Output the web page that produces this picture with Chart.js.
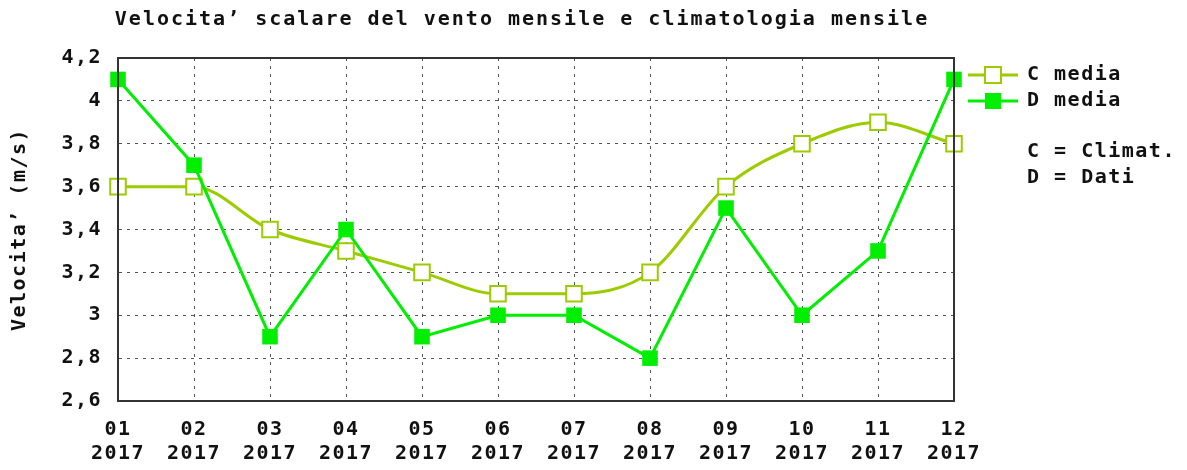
<!DOCTYPE html>
<html>
<head>
<meta charset="utf-8">
<script src="https://cdn.jsdelivr.net/npm/chart.js@4/dist/chart.umd.min.js"></script>
<style>
  html, body { margin: 0; padding: 0; background: #fff; }
  #wrap { width: 1187px; height: 470px; }
</style>
</head>
<body>
<div id="wrap"><canvas id="windChart"></canvas></div>
<script>
// Data
const months = ['01', '02', '03', '04', '05', '06', '07', '08', '09', '10', '11', '12'];
const year = '2017';
const climMedia = [3.6, 3.6, 3.4, 3.3, 3.2, 3.1, 3.1, 3.2, 3.6, 3.8, 3.9, 3.8];
const datiMedia = [4.1, 3.7, 2.9, 3.4, 2.9, 3.0, 3.0, 2.8, 3.5, 3.0, 3.3, 4.1];
const seriesNames = ['C media', 'D media'];
const legendNotes = ['C = Climat.', 'D = Dati'];
const titleText = 'Velocita\u2019 scalare del vento mensile e climatologia mensile';
const yTitle = 'Velocita\u2019 (m/s)';
const yMin = 2.6, yMax = 4.2, yStep = 0.2;

const FONT = '"DejaVu Sans Mono", monospace';
const SPACING = '1.5px';
const colC = '#9ccc00';
const colD = '#00ee00';

// wider glyph spacing, title, frame, legend
const extrasPlugin = {
    id: 'extras',
    beforeLayout(chart) {
        chart.ctx.letterSpacing = SPACING;
    },
    beforeDraw(chart) {
        chart.ctx.letterSpacing = SPACING;
    },
    afterDraw(chart) {
        const ctx = chart.ctx;
        const area = chart.chartArea;
        ctx.save();
        ctx.letterSpacing = '2px';
        ctx.font = 'bold 20px ' + FONT;
        ctx.fillStyle = '#111';
        ctx.textAlign = 'center';
        ctx.textBaseline = 'middle';
        ctx.fillText(titleText, 522, 20);

        // frame round the plot
        ctx.strokeStyle = '#333';
        ctx.lineWidth = 2;
        ctx.strokeRect(area.left, area.top, area.right - area.left, area.bottom - area.top);

        // legend
        const lx = area.right + 14;
        ctx.textAlign = 'left';
        ctx.letterSpacing = SPACING;
        ctx.font = 'bold 20px ' + FONT;
        chart.data.datasets.forEach((ds, i) => {
            const y = 75 + i * 26;
            ctx.strokeStyle = ds.borderColor;
            ctx.lineWidth = 3;
            ctx.beginPath();
            ctx.moveTo(lx, y); ctx.lineTo(lx + 50, y);
            ctx.stroke();
            if (ds.pointBackgroundColor === '#fff') {
                ctx.fillStyle = '#fff';
                ctx.fillRect(lx + 17, y - 8, 16, 16);
                ctx.lineWidth = 2;
                ctx.strokeRect(lx + 17, y - 8, 16, 16);
            } else {
                ctx.fillStyle = ds.borderColor;
                ctx.fillRect(lx + 17, y - 8, 16, 16);
            }
            ctx.fillStyle = '#111';
            ctx.fillText(ds.label, lx + 59, y);
        });
        legendNotes.forEach((txt, i) => {
            ctx.fillText(txt, lx + 59, 152 + i * 26);
        });
        ctx.restore();
    }
};

const gridDash = [3, 5];

const ctx = document.getElementById('windChart').getContext('2d');
const windChart = new Chart(ctx, {
    type: 'line',
    data: {
        labels: months.map(m => [m, year]),
        datasets: [{
            label: seriesNames[0],
            data: climMedia,
            borderColor: colC,
            backgroundColor: colC,
            borderWidth: 3,
            cubicInterpolationMode: 'monotone',
            pointStyle: 'rect',
            pointRadius: 11,
            pointBorderWidth: 2,
            pointBackgroundColor: '#fff',
            pointBorderColor: colC,
            order: 2
        }, {
            label: seriesNames[1],
            data: datiMedia,
            borderColor: colD,
            backgroundColor: colD,
            borderWidth: 3,
            tension: 0,
            pointStyle: 'rect',
            pointRadius: 11,
            pointBorderWidth: 0,
            pointBackgroundColor: colD,
            pointBorderColor: colD,
            order: 1
        }]
    },
    options: {
        responsive: true,
        maintainAspectRatio: false,
        animation: false,
        layout: { padding: { top: 58, right: 233, left: 8, bottom: 0 } },
        plugins: {
            legend: { display: false },
            title: { display: false },
            tooltip: { enabled: false }
        },
        scales: {
            x: {
                offset: false,
                grid: { color: '#555', lineWidth: 1, tickLength: 0, offset: false },
                border: { color: '#333', width: 2, dash: gridDash },
                ticks: {
                    color: '#111',
                    font: { family: FONT, size: 20, weight: 'bold', lineHeight: 1.2 },
                    padding: 17,
                    maxRotation: 0,
                    autoSkip: false
                },
                afterFit(scale) { scale.height = 69; }
            },
            y: {
                min: yMin,
                max: yMax,
                grid: { color: '#555', lineWidth: 1, tickLength: 0 },
                border: { color: '#333', width: 2, dash: gridDash },
                ticks: {
                    stepSize: yStep,
                    color: '#111',
                    font: { family: FONT, size: 20, weight: 'bold' },
                    padding: 16,
                    callback: v => String(Number(v.toFixed(1))).replace('.', ',')
                },
                title: {
                    display: true,
                    text: yTitle,
                    color: '#111',
                    font: { family: FONT, size: 20, weight: 'bold' },
                    padding: { top: 0, bottom: 6 }
                },
                afterFit(scale) { scale.width = 110; }
            }
        }
    },
    plugins: [extrasPlugin]
});
</script>
</body>
</html>
